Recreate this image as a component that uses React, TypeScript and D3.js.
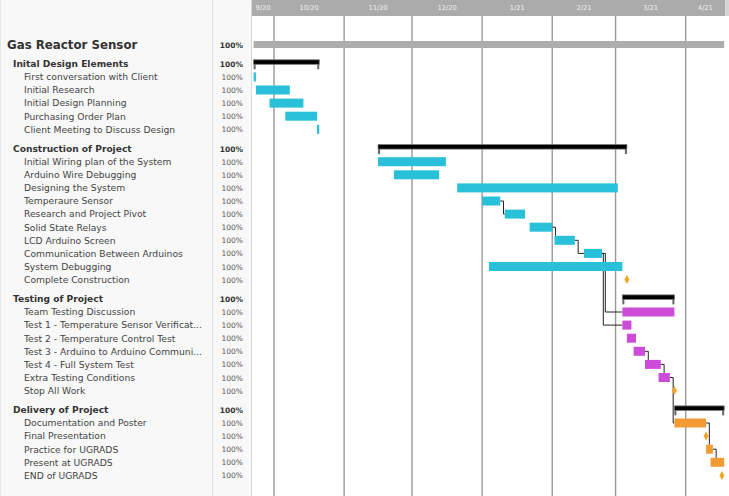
import React from "react";
import * as d3 from "d3";

const projectName = "Gas Reactor Sensor";
const groupNames = [
  "Inital Design Elements",
  "Construction of Project",
  "Testing of Project",
  "Delivery of Project",
];
const taskNames = [
  "First conversation with Client",
  "Initial Research",
  "Initial Design Planning",
  "Purchasing Order Plan",
  "Client Meeting to Discuss Design",
  "Initial Wiring plan of the System",
  "Arduino Wire Debugging",
  "Designing the System",
  "Temperaure Sensor",
  "Research and Project Pivot",
  "Solid State Relays",
  "LCD Arduino Screen",
  "Communication Between Arduinos",
  "System Debugging",
  "Complete Construction",
  "Team Testing Discussion",
  "Test 1 - Temperature Sensor Verificat...",
  "Test 2 - Temperature Control Test",
  "Test 3 - Arduino to Arduino Communi...",
  "Test 4 - Full System Test",
  "Extra Testing Conditions",
  "Stop All Work",
  "Documentation and Poster",
  "Final Presentation",
  "Practice for UGRADS",
  "Present at UGRADS",
  "END of UGRADS",
];
const taskGroup = [0, 0, 0, 0, 0, 1, 1, 1, 1, 1, 1, 1, 1, 1, 1, 2, 2, 2, 2, 2, 2, 2, 3, 3, 3, 3, 3];
const taskMilestone = [0, 0, 0, 0, 0, 0, 0, 0, 0, 0, 0, 0, 0, 0, 1, 0, 0, 0, 0, 0, 0, 1, 0, 1, 0, 0, 1];
const taskStart = [
  "2020-09-22", "2020-09-23", "2020-09-29", "2020-10-06", "2020-10-20",
  "2020-11-16", "2020-11-23", "2020-12-21", "2021-01-01", "2021-01-11",
  "2021-01-22", "2021-02-02", "2021-02-15", "2021-01-04", "2021-03-06",
  "2021-03-04", "2021-03-04", "2021-03-06", "2021-03-09", "2021-03-14",
  "2021-03-20", "2021-03-27", "2021-03-27", "2021-04-10", "2021-04-10",
  "2021-04-12", "2021-04-17",
];
const taskEnd = [
  "2020-09-23", "2020-10-08", "2020-10-14", "2020-10-20", "2020-10-21",
  "2020-12-16", "2020-12-13", "2021-03-02", "2021-01-09", "2021-01-20",
  "2021-02-01", "2021-02-11", "2021-02-23", "2021-03-04", "2021-03-06",
  "2021-03-27", "2021-03-08", "2021-03-10", "2021-03-14", "2021-03-21",
  "2021-03-25", "2021-03-27", "2021-04-10", "2021-04-10", "2021-04-13",
  "2021-04-18", "2021-04-17",
];
const taskPercent = Array(27).fill(100);
const groupPercent = [100, 100, 100, 100];
const projectPercent = 100;
const depFrom = [8, 10, 11, 12, 12, 18, 19, 20, 22, 24];
const depTo = [9, 11, 12, 15, 16, 19, 20, 22, 24, 25];
const monthTicks = [
  "2020-09-01", "2020-10-01", "2020-11-01", "2020-12-01",
  "2021-01-01", "2021-02-01", "2021-03-01", "2021-04-01", "2021-05-01",
];

const groupColors = ["#29c0da", "#29c0da", "#cc4bd9", "#f29b35"];
const milestoneColor = "#f5a425";

const W = 729;
const H = 496;
const chartL = 252;
const chartR = 725;
const headerH = 16;

export default function App() {
  const parse = d3.utcParse("%Y-%m-%d");
  const x = d3
    .scaleUtc()
    .domain([parse("2020-10-01")!, parse("2021-04-01")!])
    .range([274, 685.7]);
  const fmt = d3.utcFormat("%-m/%y");

  type Row = { kind: "project" | "group" | "task"; idx: number; y: number };
  const rows: Row[] = [];
  let y = 44.5;
  rows.push({ kind: "project", idx: 0, y });
  groupNames.forEach((g, gi) => {
    y += 19.3;
    rows.push({ kind: "group", idx: gi, y });
    taskNames.forEach((t, ti) => {
      if (taskGroup[ti] === gi) {
        y += 13.1;
        rows.push({ kind: "task", idx: ti, y });
      }
    });
  });
  const taskY: number[] = [];
  rows.forEach((r) => {
    if (r.kind === "task") taskY[r.idx] = r.y;
  });

  const s = taskStart.map((d) => x(parse(d)!));
  const e = taskEnd.map((d) => x(parse(d)!));
  const groupExtent = groupNames.map((_, gi) => {
    const ids = taskNames.map((_, i) => i).filter((i) => taskGroup[i] === gi);
    return [d3.min(ids, (i) => s[i])!, d3.max(ids, (i) => e[i])!];
  });
  const projExtent = [d3.min(s)!, d3.max(e)!];

  const barH = 9;
  const ticks = monthTicks.map((d) => parse(d)!);

  const depCount: Record<number, number> = {};
  const depPaths = depFrom.map((f, k) => {
    const t = depTo[k];
    const n = depCount[f] || 0;
    depCount[f] = n + 1;
    const x1 = e[f];
    const y1 = taskY[f];
    const xm = x1 + (n === 0 ? 3.3 : 1.3);
    const x2 = s[t];
    const y2 = taskY[t];
    if (x2 > xm + 0.5) {
      return `M${x1},${y1}H${xm}V${y2}H${x2}`;
    }
    return `M${x1},${y1}H${xm}V${y2 - barH / 2}`;
  });

  const font = "'DejaVu Sans', sans-serif";

  return (
    <svg
      width={W}
      height={H}
      style={{ position: "fixed", left: 0, top: 0, display: "block", background: "#fff" }}
      fontFamily={font}
    >
      <defs>
        <clipPath id="chartClip">
          <rect x={chartL} y={0} width={chartR - chartL} height={H} />
        </clipPath>
      </defs>
      <rect x={0} y={0} width={chartL} height={H} fill="#f8f8f8" />
      <line x1={212.5} x2={212.5} y1={0} y2={H} stroke="#e0e0e0" />
      <line x1={251.5} x2={251.5} y1={0} y2={H} stroke="#d8d8d8" />
      <line x1={0.5} x2={0.5} y1={0} y2={H} stroke="#e8e8e8" />

      <rect x={chartL} y={0} width={chartR - chartL} height={headerH} fill="#ababab" />
      <rect x={chartR} y={0} width={W - chartR} height={headerH} fill="#d6d6d6" />
      <g clipPath="url(#chartClip)">
        {ticks.slice(0, -1).map((t, i) => {
          const a = Math.max(x(t), chartL);
          const b = Math.min(x(ticks[i + 1]), chartR);
          return (
            <text
              key={"ml" + i}
              x={(a + b) / 2}
              y={10}
              fontSize={6.7}
              fill="#f0f0f0"
              textAnchor="middle"
            >
              {fmt(t)}
            </text>
          );
        })}
        {ticks.map((t, i) => (
          <line
            key={"g" + i}
            x1={x(t)}
            x2={x(t)}
            y1={headerH}
            y2={H}
            stroke="#999"
            strokeWidth={1.4}
          />
        ))}

        {depPaths.map((p, i) => (
          <path key={"d" + i} d={p} fill="none" stroke="#222" strokeWidth={1} />
        ))}

        <rect
          x={projExtent[0]}
          y={rows[0].y - 3.5}
          width={projExtent[1] - projExtent[0]}
          height={7}
          fill="#adadad"
        />

        {rows
          .filter((r) => r.kind === "group")
          .map((r) => {
            const [a, b] = groupExtent[r.idx];
            return (
              <g key={"sb" + r.idx}>
                <rect x={a} y={r.y - 4} width={2} height={9.5} fill="#666" />
                <rect x={b - 2} y={r.y - 4} width={2} height={9.5} fill="#666" />
                <rect
                  x={a}
                  y={r.y - 4}
                  width={b - a}
                  height={4.5}
                  fill="#000"
                  stroke="#777"
                  strokeWidth={0.8}
                />
              </g>
            );
          })}

        {rows
          .filter((r) => r.kind === "task")
          .map((r) => {
            const i = r.idx;
            if (taskMilestone[i]) {
              const cx = s[i];
              return (
                <path
                  key={"m" + i}
                  d={`M${cx},${r.y - 4.5}L${cx + 2.5},${r.y}L${cx},${r.y + 4.5}L${cx - 2.5},${r.y}Z`}
                  fill={milestoneColor}
                />
              );
            }
            return (
              <rect
                key={"b" + i}
                x={s[i]}
                y={r.y - barH / 2}
                width={Math.max(e[i] - s[i], 2)}
                height={barH}
                fill={groupColors[taskGroup[i]]}
              />
            );
          })}
      </g>

      {rows.map((r, k) => {
        if (r.kind === "project") {
          return (
            <g key={"l" + k}>
              <text x={7} y={r.y + 4.3} fontSize={11.8} fontWeight="bold" fill="#333">
                {projectName}
              </text>
              <text x={243} y={r.y + 3} fontSize={7.5} fontWeight="bold" fill="#333" textAnchor="end">
                {projectPercent}%
              </text>
            </g>
          );
        }
        if (r.kind === "group") {
          return (
            <g key={"l" + k}>
              <text x={13} y={r.y + 3.3} fontSize={9.1} fontWeight="bold" fill="#333">
                {groupNames[r.idx]}
              </text>
              <text x={243} y={r.y + 3} fontSize={7.5} fontWeight="bold" fill="#333" textAnchor="end">
                {groupPercent[r.idx]}%
              </text>
            </g>
          );
        }
        return (
          <g key={"l" + k}>
            <text x={24} y={r.y + 3.3} fontSize={9.2} fill="#444">
              {taskNames[r.idx]}
            </text>
            <text x={243} y={r.y + 3} fontSize={7.5} fill="#555" textAnchor="end">
              {taskPercent[r.idx]}%
            </text>
          </g>
        );
      })}
    </svg>
  );
}
